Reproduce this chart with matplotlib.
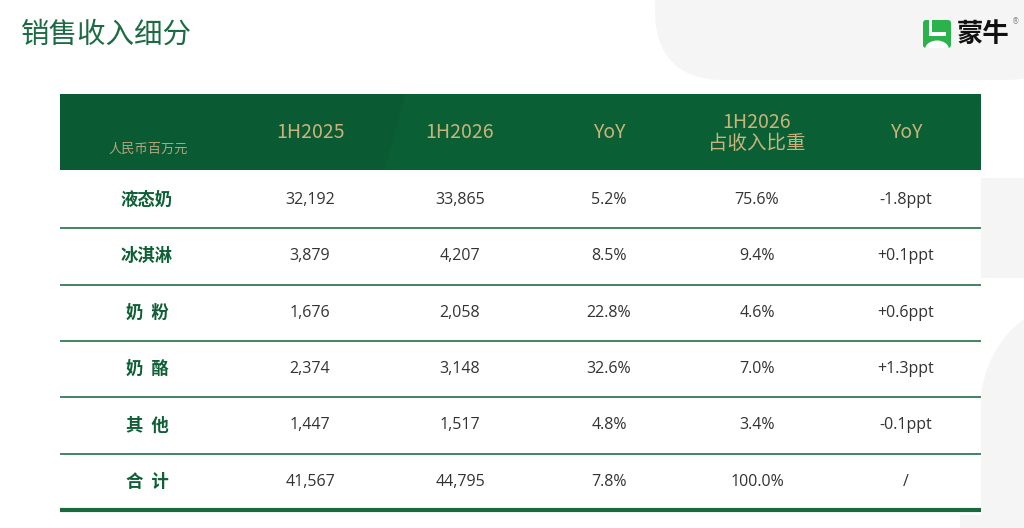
import matplotlib
matplotlib.use("Agg")
import matplotlib.pyplot as plt
from matplotlib.patches import Rectangle, FancyBboxPatch, Ellipse, Polygon

# ---- data ----
title = "销售收入细分"
unit_label = "人民币百万元"
col_headers = ["1H2025", "1H2026", "YoY", "1H2026\n占收入比重", "YoY"]
categories = ["液态奶", "冰淇淋", "奶  粉", "奶  酪", "其  他", "合  计"]
rev_1h2025 = [32192, 3879, 1676, 2374, 1447, 41567]
rev_1h2026 = [33865, 4207, 2058, 3148, 1517, 44795]
yoy_pct = [5.2, 8.5, 22.8, 32.6, 4.8, 7.8]
share_pct = [75.6, 9.4, 4.6, 7.0, 3.4, 100.0]
share_chg_ppt = [-1.8, 0.1, 0.6, 1.3, -0.1, None]

CJK = ["Noto Sans CJK SC", "DejaVu Sans"]
NUM = ["Open Sans", "Noto Sans CJK SC", "DejaVu Sans"]

fig = plt.figure(figsize=(10.24, 5.28), dpi=100)
ax = fig.add_axes([0, 0, 1, 1])
ax.set_xlim(0, 1024)
ax.set_ylim(528, 0)
ax.axis("off")

GRAY = "#f5f5f5"
# background decorative shapes
ax.add_patch(FancyBboxPatch((655, -60), 420, 140, boxstyle="round,pad=0,rounding_size=70",
                            fc=GRAY, ec="none", zorder=0))
ax.add_patch(Ellipse((820, 120), 260, 80, fc="white", ec="none", zorder=0.2))
ax.add_patch(Rectangle((960, 178), 80, 100, fc=GRAY, ec="none", zorder=0))
ax.add_patch(Ellipse((1080, 410), 200, 220, fc=GRAY, ec="none", zorder=0))
ax.add_patch(Rectangle((960, 410), 80, 130, fc=GRAY, ec="none", zorder=0))

# table region white
x0, x1 = 60, 981
ax.add_patch(Rectangle((x0, 90), x1 - x0, 425, fc="white", ec="none", zorder=0.5))

# title
ax.text(21, 35, title, fontsize=20.5, color="#1d6b44", family=CJK, va="center", ha="left",
        fontweight="light")

# logo
sq = FancyBboxPatch((923, 20), 28, 28, boxstyle="round,pad=0,rounding_size=3",
                    fc="#2bb24c", ec="none", zorder=3)
ax.add_patch(sq)
ax.add_patch(Rectangle((928.5, 20), 3.5, 15, fc="white", ec="none", zorder=4))
ax.add_patch(Rectangle((928.5, 32), 17, 3.5, fc="white", ec="none", zorder=4))
dome = Ellipse((937, 49.5), 24, 18, fc="white", ec="none", zorder=4)
ax.add_patch(dome)
dome.set_clip_path(sq)
ax.text(957, 34, "蒙牛", fontsize=19, fontweight="heavy", color="#111111", family=CJK,
        va="center", ha="left", zorder=4)
ax.text(1012, 22, "®", fontsize=5.5, color="#888888", va="center", ha="left", zorder=4)

# table geometry
hdr_top, hdr_bot = 94, 170
row_h = 56.3
label_x = 147
col_x = [310, 460, 609, 757, 906]

# header band
ax.add_patch(Rectangle((x0, hdr_top), x1 - x0, hdr_bot - hdr_top, fc="#0a5a33", ec="none", zorder=1))
ax.add_patch(Polygon([(405, hdr_top), (x1, hdr_top), (x1, hdr_bot), (385, hdr_bot)],
                     closed=True, fc="#0b5f35", ec="none", zorder=1))
GOLD = "#c8b47a"
ax.text(148, 149, unit_label, fontsize=9.5, color="#b3a67c", family=CJK, ha="center", va="center", zorder=2)
hdr_y = 133
for cx, h in zip(col_x, col_headers):
    ax.text(cx, hdr_y, h, fontsize=14, color=GOLD, family=CJK, ha="center", va="center",
            linespacing=1.0, zorder=2)

# rows
body_top = hdr_bot + 2
for i, cat in enumerate(categories):
    yc = body_top + row_h * (i + 0.5)
    ax.text(label_x, yc, cat, fontsize=12.5, fontweight="bold", color="#0e5e36", family=CJK,
            ha="center", va="center", zorder=2)
    vals = [f"{rev_1h2025[i]:,}", f"{rev_1h2026[i]:,}", f"{yoy_pct[i]:.1f}%",
            f"{share_pct[i]:.1f}%",
            "/" if share_chg_ppt[i] is None else f"{share_chg_ppt[i]:+.1f}ppt"]
    for cx, v in zip(col_x, vals):
        ax.text(cx, yc, v, fontsize=11.5, color="#333333", family=NUM, ha="center", va="center",
                zorder=2)
    yl = body_top + row_h * (i + 1)
    if i < len(categories) - 1:
        ax.plot([x0, x1], [yl, yl], color="#2f7d52", lw=1.3, solid_capstyle="butt", zorder=2)
    else:
        ax.plot([x0, x1], [yl, yl], color="#186a3e", lw=3, solid_capstyle="butt", zorder=2)

fig.savefig("out.png", dpi=100, facecolor="white")
